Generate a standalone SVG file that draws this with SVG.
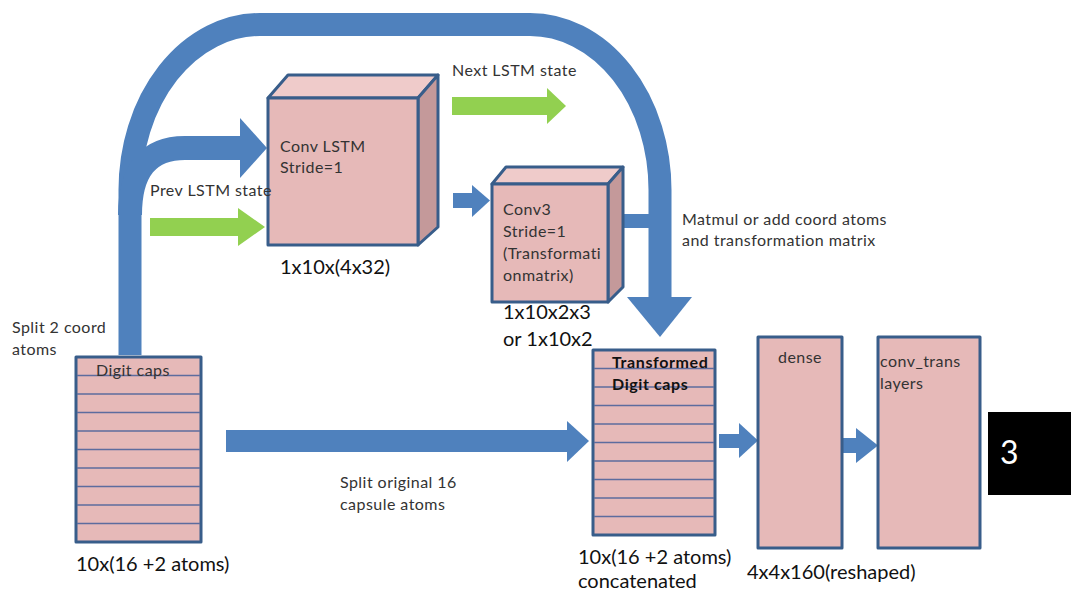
<svg xmlns="http://www.w3.org/2000/svg" width="1071" height="592" viewBox="0 0 1071 592">
  <defs>
    <style>
      .box { fill: #e6b9b8; stroke: #385d8a; stroke-width: 3; stroke-linejoin: round; }
      .top { fill: #efcbca; stroke: #385d8a; stroke-width: 3; stroke-linejoin: round; }
      .side { fill: #c4999a; stroke: #385d8a; stroke-width: 3; stroke-linejoin: round; }
      .row { stroke: #5d6c9e; stroke-width: 1.3; }
      .blue { fill: #4f81bd; }
      .green { fill: #92d050; }
      .band { fill: none; stroke: #4f81bd; }
      .lbl { font-family: Lato, "Liberation Sans", sans-serif; font-size: 16px; letter-spacing: 0.45px; fill: #333333; }
      .dim { font-family: Lato, "Liberation Sans", sans-serif; font-size: 20px; fill: #111111; }
      .bold { font-family: Lato, "Liberation Sans", sans-serif; font-size: 16px; letter-spacing: 0.6px; font-weight: bold; fill: #111111; }
    </style>
  </defs>
  <rect width="1071" height="592" fill="#ffffff"/>

  <!-- connectors -->
  <g id="connectors">
    <!-- coord atoms loop over the top into the transformed caps -->
    <path class="band" stroke-width="23" d="M130,355 L130,190 A130,165.5 0 0 1 260,24.5 L530,24.5 A130,165.5 0 0 1 660,190 L660,298"/>
    <polygon class="blue" points="627,297 692,297 660,337"/>
    <!-- branch into Conv LSTM -->
    <path class="band" stroke-width="24" d="M130,215 Q130,148 185,148 L242,148"/>
    <polygon class="blue" points="240,118 267,148 240,178"/>
    <!-- previous LSTM state -->
    <rect class="green" x="150" y="218" width="90" height="18"/>
    <polygon class="green" points="238,208 265,227 238,246"/>
    <!-- next LSTM state -->
    <rect class="green" x="452" y="97" width="97" height="18"/>
    <polygon class="green" points="547,88 566,106 547,124"/>
    <!-- Conv LSTM to Conv3 -->
    <rect class="blue" x="453" y="193" width="21" height="15"/>
    <polygon class="blue" points="472,185 490,200.5 472,217"/>
    <!-- Conv3 output joins the loop -->
    <rect class="blue" x="606" y="214" width="44" height="14"/>
    <!-- original 16 atoms -->
    <rect class="blue" x="226" y="430" width="343" height="22"/>
    <polygon class="blue" points="567,421 589,441 567,462"/>
    <!-- transformed caps to dense -->
    <rect class="blue" x="719" y="434" width="22" height="14"/>
    <polygon class="blue" points="739,423 758,440.5 739,458"/>
    <!-- dense to conv_trans -->
    <rect class="blue" x="842" y="438" width="16" height="15"/>
    <polygon class="blue" points="856,428 878,445.5 856,463"/>
  </g>

  <!-- Digit caps -->
  <g id="digit-caps">
    <rect class="box" x="76" y="357" width="125" height="185"/>
    <g class="row">
      <line x1="77" y1="375.5" x2="200" y2="375.5"/>
      <line x1="77" y1="394" x2="200" y2="394"/>
      <line x1="77" y1="412.5" x2="200" y2="412.5"/>
      <line x1="77" y1="431" x2="200" y2="431"/>
      <line x1="77" y1="449.5" x2="200" y2="449.5"/>
      <line x1="77" y1="468" x2="200" y2="468"/>
      <line x1="77" y1="486.5" x2="200" y2="486.5"/>
      <line x1="77" y1="505" x2="200" y2="505"/>
      <line x1="77" y1="523.5" x2="200" y2="523.5"/>
    </g>
    <text class="lbl" x="96" y="376">Digit caps</text>
    <text class="dim" x="76" y="571">10x(16 +2 atoms)</text>
    <text class="lbl" x="12" y="333">Split 2 coord</text>
    <text class="lbl" x="12" y="355">atoms</text>
  </g>

  <!-- Conv LSTM -->
  <g id="conv-lstm">
    <polygon class="top" points="268,98 288,75 438,75 418,98"/>
    <polygon class="side" points="418,98 438,75 438,227 418,245"/>
    <rect class="box" x="268" y="98" width="150" height="147"/>
    <text class="lbl" x="280" y="152">Conv LSTM</text>
    <text class="lbl" x="280" y="173">Stride=1</text>
    <text class="dim" x="280" y="274">1x10x(4x32)</text>
  </g>

  <!-- LSTM state labels -->
  <g id="lstm-states">
    <text class="lbl" x="150" y="196">Prev LSTM state</text>
    <text class="lbl" x="452" y="76">Next LSTM state</text>
  </g>

  <!-- Conv3 -->
  <g id="conv3">
    <polygon class="top" points="492,184 506,167 623,167 608,184"/>
    <polygon class="side" points="608,184 623,167 623,287 608,302"/>
    <rect class="box" x="492" y="184" width="116" height="118"/>
    <text class="lbl" x="503" y="215">Conv3</text>
    <text class="lbl" x="503" y="237">Stride=1</text>
    <text class="lbl" x="503" y="259">(Transformati</text>
    <text class="lbl" x="503" y="281">onmatrix)</text>
    <text class="dim" x="503" y="319">1x10x2x3</text>
    <text class="dim" x="503" y="346">or 1x10x2</text>
  </g>

  <!-- loop label -->
  <g id="matmul-label">
    <text class="lbl" x="682" y="225">Matmul or add coord atoms</text>
    <text class="lbl" x="682" y="246">and transformation matrix</text>
  </g>

  <!-- split label -->
  <g id="split-label">
    <text class="lbl" x="340" y="488">Split original 16</text>
    <text class="lbl" x="340" y="510">capsule atoms</text>
  </g>

  <!-- Transformed Digit caps -->
  <g id="transformed-caps">
    <rect class="box" x="593" y="350" width="122" height="185"/>
    <g class="row">
      <line x1="594" y1="368.5" x2="714" y2="368.5"/>
      <line x1="594" y1="387" x2="714" y2="387"/>
      <line x1="594" y1="405.5" x2="714" y2="405.5"/>
      <line x1="594" y1="424" x2="714" y2="424"/>
      <line x1="594" y1="442.5" x2="714" y2="442.5"/>
      <line x1="594" y1="461" x2="714" y2="461"/>
      <line x1="594" y1="479.5" x2="714" y2="479.5"/>
      <line x1="594" y1="498" x2="714" y2="498"/>
      <line x1="594" y1="516.5" x2="714" y2="516.5"/>
    </g>
    <text class="bold" x="612" y="368">Transformed</text>
    <text class="bold" x="612" y="390">Digit caps</text>
    <text class="dim" x="578" y="564">10x(16 +2 atoms)</text>
    <text class="dim" x="578" y="588">concatenated</text>
  </g>

  <!-- dense -->
  <g id="dense">
    <rect class="box" x="758" y="337" width="84" height="211"/>
    <text class="lbl" x="800" y="363" text-anchor="middle">dense</text>
    <text class="dim" x="747" y="579">4x4x160(reshaped)</text>
  </g>

  <!-- conv_trans layers -->
  <g id="conv-trans">
    <rect class="box" x="878" y="337" width="102" height="211"/>
    <text class="lbl" x="880" y="367">conv_trans</text>
    <text class="lbl" x="880" y="389">layers</text>
  </g>

  <!-- output digit -->
  <g id="output">
    <rect x="988" y="412" width="83" height="83" fill="#000000"/>
    <text x="1000" y="464" font-family="Lato, 'Liberation Sans', sans-serif" font-size="32" fill="#ffffff">3</text>
  </g>
</svg>
